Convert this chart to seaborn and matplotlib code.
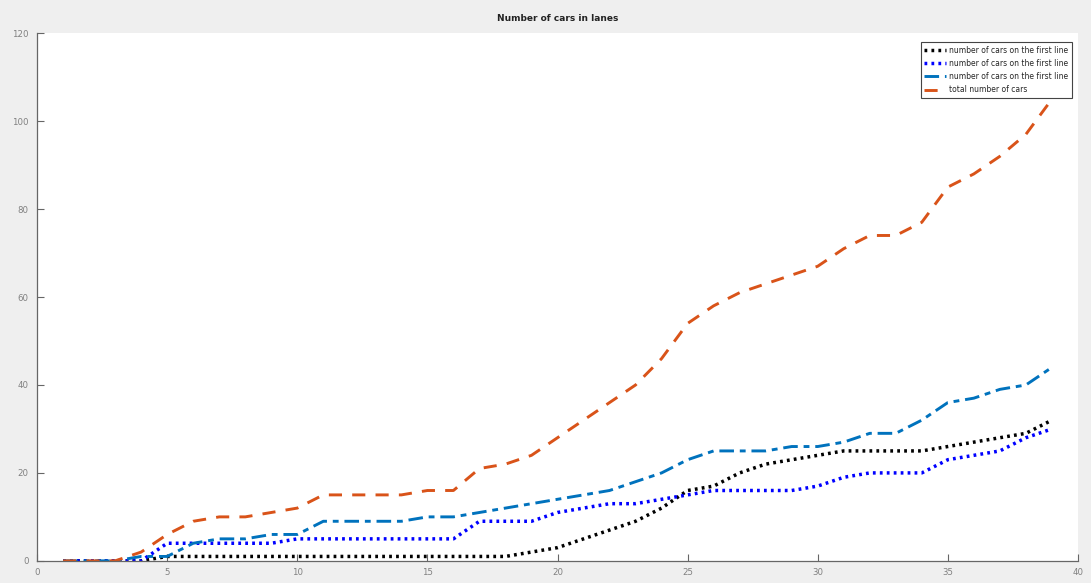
import numpy as np
import pandas as pd
import matplotlib
matplotlib.use("Agg")
import matplotlib.pyplot as plt
import seaborn as sns

# ---- data ----
time_steps = list(range(1, 40))
lane1 = [0, 0, 0, 0, 1, 1, 1, 1, 1, 1, 1, 1, 1, 1, 1, 1, 1, 1, 2, 3,
         5, 7, 9, 12, 16, 17, 20, 22, 23, 24, 25, 25, 25, 25, 26, 27, 28, 29, 32]
lane2 = [0, 0, 0, 0, 4, 4, 4, 4, 4, 5, 5, 5, 5, 5, 5, 5, 9, 9, 9, 11,
         12, 13, 13, 14, 15, 16, 16, 16, 16, 17, 19, 20, 20, 20, 23, 24, 25, 28, 30]
lane3 = [0, 0, 0, 1, 1, 4, 5, 5, 6, 6, 9, 9, 9, 9, 10, 10, 11, 12, 13, 14,
         15, 16, 18, 20, 23, 25, 25, 25, 26, 26, 27, 29, 29, 32, 36, 37, 39, 40, 44]
total = [0, 0, 0, 2, 6, 9, 10, 10, 11, 12, 15, 15, 15, 15, 16, 16, 21, 22, 24, 28,
         32, 36, 40, 46, 54, 58, 61, 63, 65, 67, 71, 74, 74, 77, 85, 88, 92, 97, 105]

labels = ["number of cars on the first line",
          "number of cars on the first line",
          "number of cars on the first line",
          "total number of cars"]
title = "Number of cars in lanes"
x_ticks = [0, 5, 10, 15, 20, 25, 30, 35, 40]
y_ticks = [0, 20, 40, 60, 80, 100, 120]

sns.set_style("ticks")
plt.rcParams['font.family'] = ['DejaVu Sans']

fig = plt.figure(figsize=(10.91, 5.83), dpi=100, facecolor="#efefef")
ax = fig.add_axes([0.034, 0.038, 0.954, 0.905])
ax.set_facecolor("white")

series = [lane1, lane2, lane3, total]
styles = [
    dict(color="black", linestyle=(0, (0.8, 1.2)), linewidth=2.5),
    dict(color="#0000ff", linestyle=(0, (0.8, 1.2)), linewidth=2.5),
    dict(color="#0072BD", linestyle=(0, (5, 2, 2, 2)), linewidth=2.1),
    dict(color="#D95319", linestyle=(0, (4.5, 3.5)), linewidth=2.1),
]
for vals, lab, st in zip(series, labels, styles):
    df = pd.DataFrame({"t": time_steps, "v": vals})
    sns.lineplot(data=df, x="t", y="v", ax=ax, label=lab, **st)

ax.set_xlim(0, 40)
ax.set_ylim(0, 120)
ax.set_xticks(x_ticks)
ax.set_yticks(y_ticks)
ax.set_xlabel("")
ax.set_ylabel("")
ax.tick_params(direction="in", length=5, width=0.8, colors="#666666",
               labelsize=6.2, labelcolor="#808080")
ax.tick_params(axis="y", pad=6)
ax.tick_params(axis="x", pad=5)
for s in ["top", "right"]:
    ax.spines[s].set_visible(False)
for s in ["left", "bottom"]:
    ax.spines[s].set_color("#666666")
    ax.spines[s].set_linewidth(0.9)

ax.set_title(title, fontsize=6.5, fontweight="bold", pad=9, color="#222222")

leg = ax.legend(loc="upper right", fontsize=5.5, frameon=True, fancybox=False,
                edgecolor="#444444", framealpha=1, borderpad=0.45,
                handlelength=2.8, handletextpad=0.5, labelspacing=0.55,
                bbox_to_anchor=(0.998, 0.99))
leg.get_frame().set_linewidth(0.8)

fig.savefig("out.png", dpi=100, facecolor=fig.get_facecolor())
